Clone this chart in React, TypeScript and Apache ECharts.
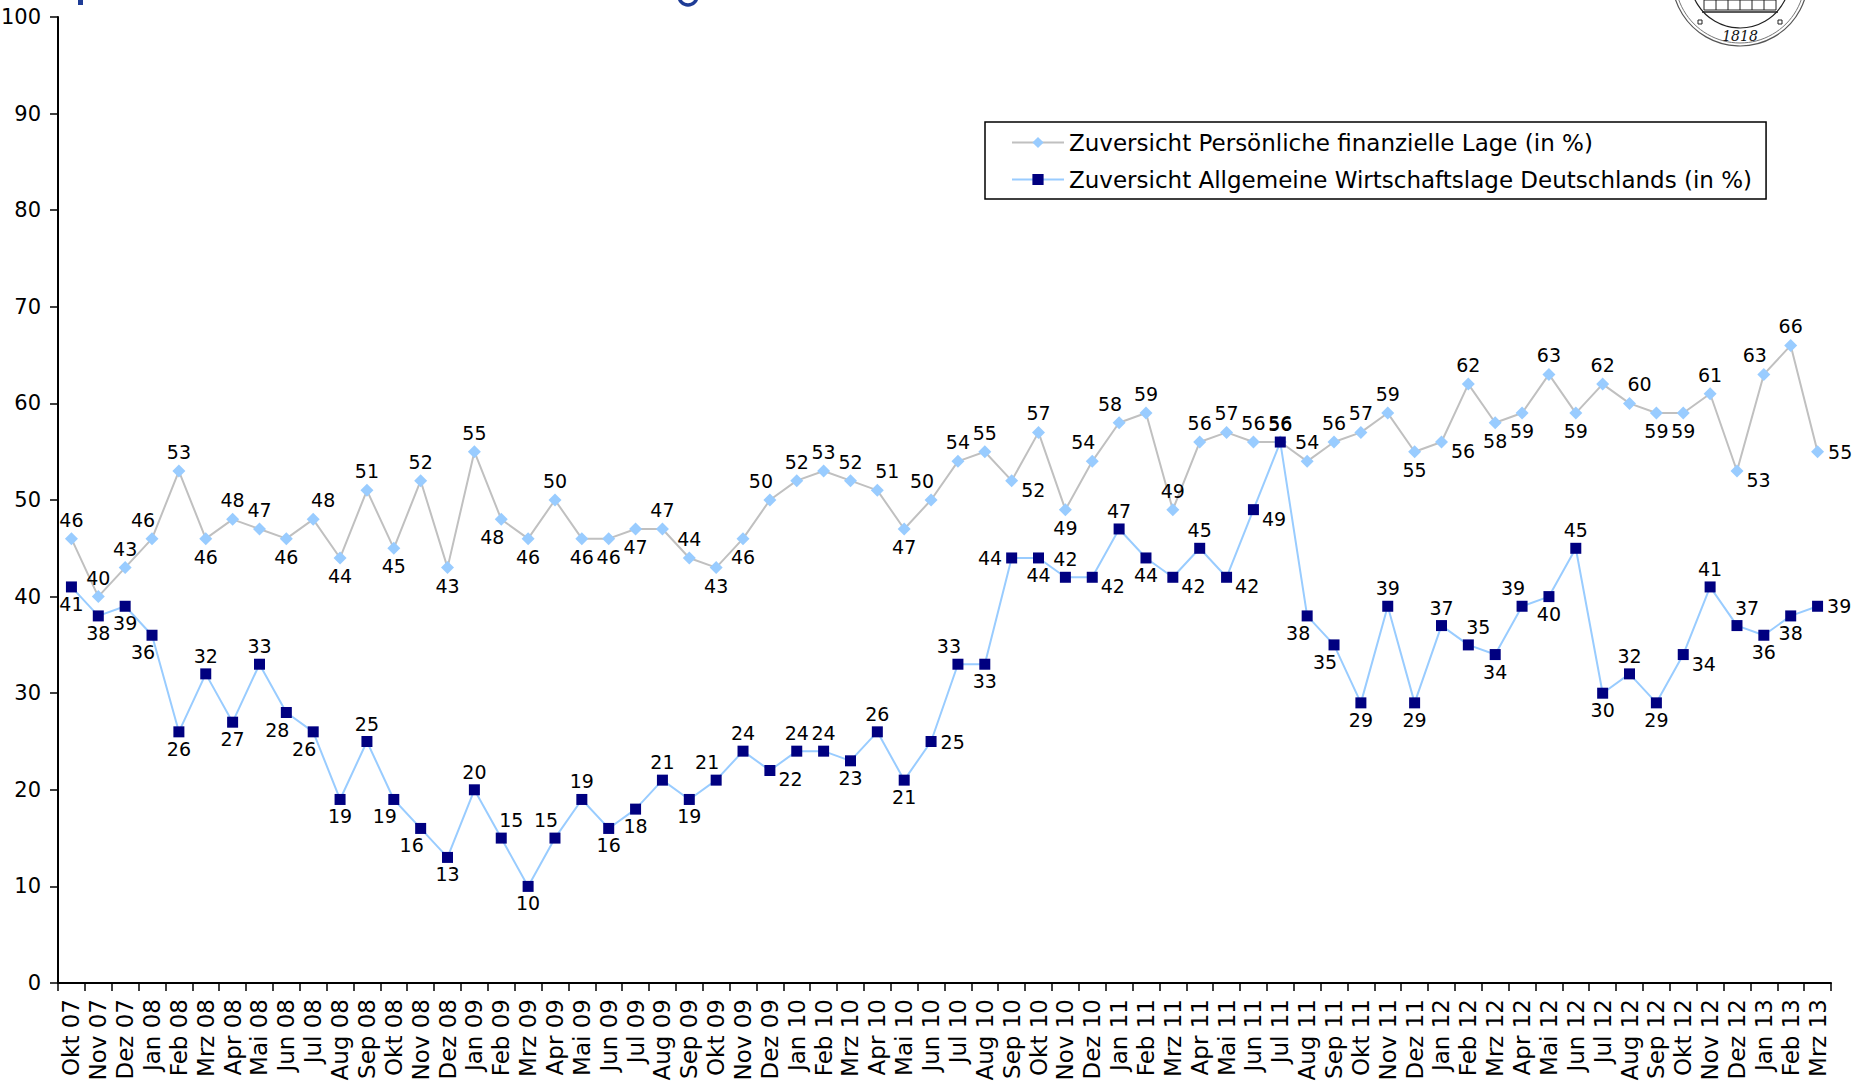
import React, { useEffect, useRef } from "react";
import * as echarts from "echarts";

const categories = [
  "Okt 07", "Nov 07", "Dez 07",
  "Jan 08", "Feb 08", "Mrz 08", "Apr 08", "Mai 08", "Jun 08", "Jul 08", "Aug 08", "Sep 08", "Okt 08", "Nov 08", "Dez 08",
  "Jan 09", "Feb 09", "Mrz 09", "Apr 09", "Mai 09", "Jun 09", "Jul 09", "Aug 09", "Sep 09", "Okt 09", "Nov 09", "Dez 09",
  "Jan 10", "Feb 10", "Mrz 10", "Apr 10", "Mai 10", "Jun 10", "Jul 10", "Aug 10", "Sep 10", "Okt 10", "Nov 10", "Dez 10",
  "Jan 11", "Feb 11", "Mrz 11", "Apr 11", "Mai 11", "Jun 11", "Jul 11", "Aug 11", "Sep 11", "Okt 11", "Nov 11", "Dez 11",
  "Jan 12", "Feb 12", "Mrz 12", "Apr 12", "Mai 12", "Jun 12", "Jul 12", "Aug 12", "Sep 12", "Okt 12", "Nov 12", "Dez 12",
  "Jan 13", "Feb 13", "Mrz 13",
];

const personal = [
  46, 40, 43,
  46, 53, 46, 48, 47, 46, 48, 44, 51, 45, 52, 43,
  55, 48, 46, 50, 46, 46, 47, 47, 44, 43, 46, 50,
  52, 53, 52, 51, 47, 50, 54, 55, 52, 57, 49, 54,
  58, 59, 49, 56, 57, 56, 56, 54, 56, 57, 59, 55,
  56, 62, 58, 59, 63, 59, 62, 60, 59, 59, 61, 53,
  63, 66, 55,
];

const general = [
  41, 38, 39,
  36, 26, 32, 27, 33, 28, 26, 19, 25, 19, 16, 13,
  20, 15, 10, 15, 19, 16, 18, 21, 19, 21, 24, 22,
  24, 24, 23, 26, 21, 25, 33, 33, 44, 44, 42, 42,
  47, 44, 42, 45, 42, 49, 56, 38, 35, 29, 39, 29,
  37, 35, 34, 39, 40, 45, 30, 32, 29, 34, 41, 37,
  36, 38, 39,
];

const yTicks = [0, 10, 20, 30, 40, 50, 60, 70, 80, 90, 100];

const seriesNames = [
  "Zuversicht Persönliche finanzielle Lage (in %)",
  "Zuversicht Allgemeine Wirtschaftslage Deutschlands (in %)",
];

// label placement codes (layout only)
const personalPos =
  "t t t tl t b t t b tr b t b t b t bl b t b b b t t b b tl t t t tr b tl t t br t b tl tl t t t t t t t t t t b br t b b t b t tr b b t br tl t r".split(" ");
const generalPos =
  "b b b bl b t b t bl bl b t bl bl b t tr b tl t b b t b tl t br t t b t b r tl b l b t br t b br t br br t bl bl b t b t tr b tl b t b t b br t tr b b r".split(" ");

const FONT = "DejaVu Sans";

function lbl(code: string): any {
  switch (code) {
    case "t": return { position: "top", distance: 3 };
    case "b": return { position: "bottom", distance: 2 };
    case "l": return { position: "left", distance: 4 };
    case "r": return { position: "right", distance: 4 };
    case "tl": return { position: "top", distance: 3, offset: [-9, 0] };
    case "tr": return { position: "top", distance: 3, offset: [10, 0] };
    case "bl": return { position: "bottom", distance: 2, offset: [-9, 0] };
    case "br": return { position: "right", distance: 3, offset: [0, 9] };
    default: return { position: "top" };
  }
}

export default function App() {
  const ref = useRef<HTMLDivElement>(null);

  useEffect(() => {
    if (!ref.current) return;
    const chart = echarts.init(ref.current, undefined, { renderer: "svg" });
    const navy = "#1E3C96";
    const option: any = {
      animation: false,
      backgroundColor: "#ffffff",
      grid: {
        left: 58,
        right: 33,
        top: 17,
        bottom: 98,
        containLabel: false,
        outerBoundsMode: "none",
      },
      legend: {
        left: 985,
        top: 122,
        orient: "vertical",
        backgroundColor: "#ffffff",
        borderColor: "#000000",
        borderWidth: 1.5,
        padding: [7, 14, 6, 26],
        itemWidth: 52,
        itemHeight: 14,
        itemGap: 10,
        textStyle: { fontFamily: FONT, fontSize: 23, color: "#000", lineHeight: 27 },
        data: seriesNames,
      },
      xAxis: {
        type: "category",
        data: categories,
        boundaryGap: true,
        axisLine: { show: true, lineStyle: { color: "#000", width: 2 } },
        axisTick: { show: true, interval: 0, length: 8, lineStyle: { color: "#000", width: 1.5 } },
        axisLabel: {
          interval: 0,
          rotate: 90,
          margin: 16,
          fontFamily: FONT,
          fontSize: 23,
          color: "#000",
        },
        splitLine: { show: false },
      },
      yAxis: {
        type: "value",
        min: yTicks[0],
        max: yTicks[yTicks.length - 1],
        interval: 10,
        axisLine: { show: true, lineStyle: { color: "#000", width: 2 } },
        axisTick: { show: true, length: 8, lineStyle: { color: "#000", width: 1.5 } },
        axisLabel: { margin: 17, fontFamily: FONT, fontSize: 21, color: "#000" },
        splitLine: { show: false },
      },
      graphic: [
        // clipped title fragments at the top
        { type: "rect", shape: { x: 78, y: 0, width: 5, height: 5 }, style: { fill: navy } },
        {
          type: "arc",
          shape: { cx: 688, cy: -4, r: 9, startAngle: 0, endAngle: Math.PI, clockwise: true },
          style: { stroke: navy, lineWidth: 3.5, fill: "none" },
        },
        // seal (partially visible)
        { type: "circle", shape: { cx: 1740, cy: -22, r: 68 }, style: { stroke: "#555", lineWidth: 1.2, fill: "none" } },
        { type: "circle", shape: { cx: 1740, cy: -22, r: 65 }, style: { stroke: "#777", lineWidth: 1, fill: "none" } },
        { type: "circle", shape: { cx: 1740, cy: -22, r: 50 }, style: { stroke: "#222", lineWidth: 1.2, fill: "none" } },
        { type: "line", shape: { x1: 1702, y1: 12, x2: 1778, y2: 12 }, style: { stroke: "#222", lineWidth: 1.5 } },
        { type: "rect", shape: { x: 1704, y: 0, width: 72, height: 10 }, style: { stroke: "#222", lineWidth: 1, fill: "none" } },
        { type: "line", shape: { x1: 1716, y1: 0, x2: 1716, y2: 10 }, style: { stroke: "#222", lineWidth: 1 } },
        { type: "line", shape: { x1: 1728, y1: 0, x2: 1728, y2: 10 }, style: { stroke: "#222", lineWidth: 1 } },
        { type: "line", shape: { x1: 1740, y1: 0, x2: 1740, y2: 10 }, style: { stroke: "#222", lineWidth: 1 } },
        { type: "line", shape: { x1: 1752, y1: 0, x2: 1752, y2: 10 }, style: { stroke: "#222", lineWidth: 1 } },
        { type: "line", shape: { x1: 1764, y1: 0, x2: 1764, y2: 10 }, style: { stroke: "#222", lineWidth: 1 } },
        { type: "rect", shape: { x: 1698, y: 20, width: 4, height: 4 }, style: { stroke: "#222", lineWidth: 1, fill: "none" } },
        { type: "rect", shape: { x: 1778, y: 20, width: 4, height: 4 }, style: { stroke: "#222", lineWidth: 1, fill: "none" } },
        {
          type: "text",
          x: 1740,
          y: 36,
          style: {
            text: "1818",
            fontFamily: "DejaVu Serif",
            fontStyle: "italic",
            fontSize: 14,
            fill: "#111",
            align: "center",
            verticalAlign: "middle",
          },
        },
      ],
      series: [
        {
          name: seriesNames[0],
          type: "line",
          symbol: "diamond",
          symbolSize: 13,
          lineStyle: { color: "#C0C0C0", width: 2 },
          itemStyle: { color: "#99CCFF" },
          label: { show: true, fontFamily: FONT, fontSize: 19, color: "#000" },
          data: personal.map((v, i) => ({ value: v, label: lbl(personalPos[i]) })),
          z: 2,
        },
        {
          name: seriesNames[1],
          type: "line",
          symbol: "rect",
          symbolSize: 11,
          lineStyle: { color: "#99CCFF", width: 2 },
          itemStyle: { color: "#000080" },
          label: { show: true, fontFamily: FONT, fontSize: 19, color: "#000" },
          data: general.map((v, i) => ({ value: v, label: lbl(generalPos[i]) })),
          z: 3,
        },
      ],
    };
    chart.setOption(option);
    return () => chart.dispose();
  }, []);

  return (
    <div
      ref={ref}
      style={{ position: "fixed", left: 0, top: 0, width: 1864, height: 1081, background: "#fff" }}
    />
  );
}
